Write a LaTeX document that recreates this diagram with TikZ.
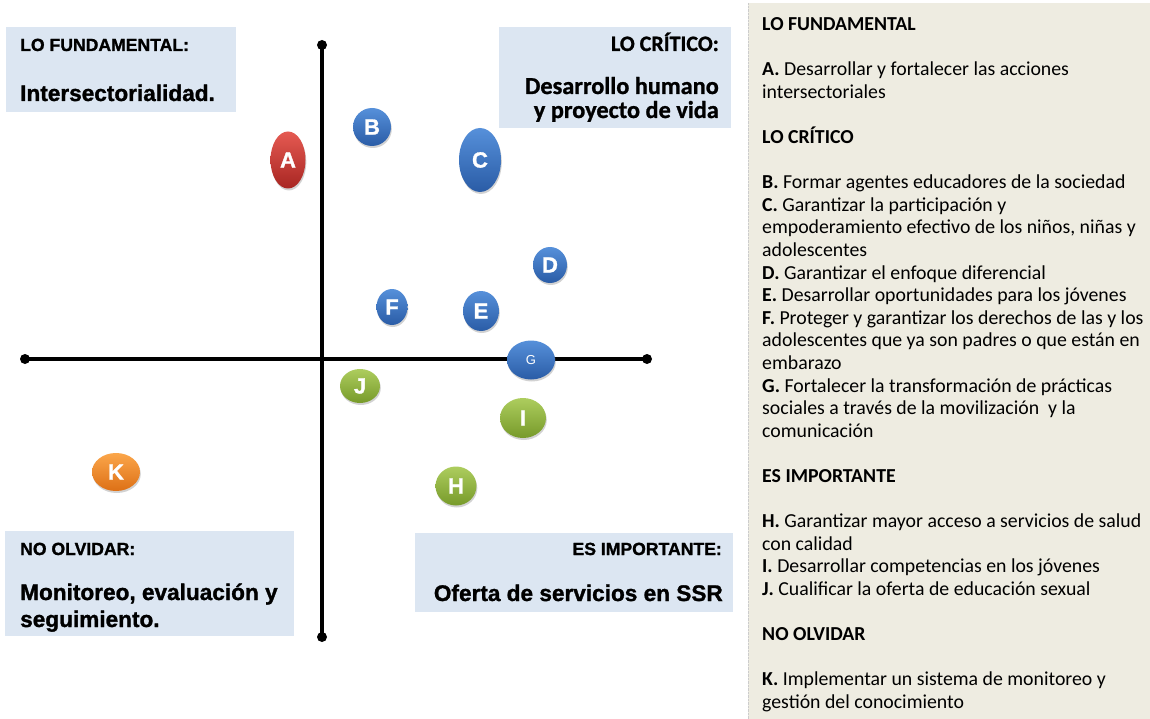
\documentclass[tikz,border=0pt]{standalone}
\usepackage{fontspec}
\setmainfont{Carlito}
\newfontfamily\arialf{Liberation Sans}[BoldFeatures={FakeBold=1.3}]
\newfontfamily\critf{Carlito}[BoldFeatures={FakeBold=1.0}]
\usetikzlibrary{shapes.geometric,shadows}
\definecolor{boxblue}{HTML}{DCE6F2}
\definecolor{panelbg}{HTML}{EEECE1}
\definecolor{redtop}{HTML}{E55A52}
\definecolor{redbot}{HTML}{A82622}
\definecolor{bluetop}{HTML}{5690DA}
\definecolor{bluebot}{HTML}{2A5CA6}
\definecolor{greentop}{HTML}{ADCD5E}
\definecolor{greenbot}{HTML}{779A2A}
\definecolor{orangetop}{HTML}{FBA64A}
\definecolor{orangebot}{HTML}{DD7016}
\tikzset{
  ball/.style={ellipse, inner sep=0pt, text=white,
    font=\arialf\bfseries\fontsize{22}{22}\selectfont,
    drop shadow={opacity=0.35, shadow xshift=0.8pt, shadow yshift=-2pt}},
  redball/.style={ball, top color=redtop, bottom color=redbot},
  blueball/.style={ball, top color=bluetop, bottom color=bluebot},
  greenball/.style={ball, top color=greentop, bottom color=greenbot},
  orangeball/.style={ball, top color=orangetop, bottom color=orangebot},
  axisdot/.style={circle, fill=black, inner sep=0pt, minimum size=10pt},
  axisline/.style={line width=3.5pt, black},
  boxtitle/.style={inner sep=0pt, font=\arialf\bfseries\fontsize{17.6}{20}\selectfont},
  boxbig/.style={inner sep=0pt, font=\arialf\bfseries\fontsize{22.6}{26}\selectfont},
  crittitle/.style={inner sep=0pt, font=\critf\bfseries\fontsize{22}{24}\selectfont},
  critbig/.style={inner sep=0pt, font=\critf\bfseries\fontsize{24.3}{26}\selectfont},
  paneltext/.style={inner sep=0pt, anchor=base west, font=\fontsize{19.8}{22.6}\selectfont},
}
\begin{document}
\begin{tikzpicture}[x=1pt,y=-1pt]
\useasboundingbox (0,0) rectangle (1150,719);
\fill[white] (0,0) rectangle (1150,719);

% right panel
\fill[panelbg] (748,3) rectangle (1150,719);
\draw[gray!40, densely dotted] (748,3) -- (748,719);

% quadrant boxes
\fill[boxblue] (6,27) rectangle (236,112);
\fill[boxblue] (499,27) rectangle (731,128);
\fill[boxblue] (5,531) rectangle (294,636);
\fill[boxblue] (415,533) rectangle (733,612);

\node[boxtitle, anchor=base west] (t1) at (20,51) {LO FUNDAMENTAL:};
\node[boxbig, anchor=base west] (t1b) at (20,101) {Intersectorialidad.};

\node[crittitle, anchor=base east] (t2) at (719,51) {LO CRÍTICO:};
\node[critbig, anchor=base east] (t2b) at (719,94) {Desarrollo humano};
\node[critbig, anchor=base east] (t2c) at (719,118) {y proyecto de vida};

\node[boxtitle, anchor=base west] (t3) at (20,555) {NO OLVIDAR:};
\node[boxbig, anchor=base west] (t3b) at (20,600) {Monitoreo, evaluación y};
\node[boxbig, anchor=base west] (t3c) at (20,627) {seguimiento.};

\node[boxtitle, anchor=base east] (t4) at (722,555) {ES IMPORTANTE:};
\node[boxbig, anchor=base east] (t4b) at (723,601) {Oferta de servicios en SSR};

% axes
\node[axisdot] (vt) at (322,45) {};
\node[axisdot] (vb) at (322,637) {};
\node[axisdot] (hl) at (25,359) {};
\node[axisdot] (hr) at (647,359) {};
\draw[axisline] (vt.center) -- (vb.center);
\draw[axisline] (hl.center) -- (hr.center);

% balls
\node[redball, minimum width=35pt, minimum height=57pt] (A) at (288,160) {A};
\node[blueball, minimum width=38pt, minimum height=38pt] (B) at (372,127) {B};
\node[blueball, minimum width=42pt, minimum height=64pt] (C) at (480,160) {C};
\node[blueball, minimum width=34pt, minimum height=36pt] (D) at (550,265) {D};
\node[blueball, minimum width=31pt, minimum height=36pt] (F) at (392,307) {F};
\node[blueball, minimum width=36pt, minimum height=40pt] (E) at (481,311) {E};
\node[blueball, minimum width=48pt, minimum height=39pt, font=\arialf\fontsize{13}{13}\selectfont] (G) at (531,360) {G};
\node[greenball, minimum width=40pt, minimum height=34pt] (J) at (360,386) {J};
\node[greenball, minimum width=46pt, minimum height=40pt] (I) at (523,418) {I};
\node[greenball, minimum width=41pt, minimum height=39pt] (H) at (456,486) {H};
\node[orangeball, minimum width=48pt, minimum height=38pt] (K) at (116,472) {K};

% panel text
\foreach \i/\t in {
  0/{\textbf{LO FUNDAMENTAL}},
  2/{\textbf{A.} Desarrollar y fortalecer las acciones},
  3/{intersectoriales},
  5/{\textbf{LO CRÍTICO}},
  7/{\textbf{B.} Formar agentes educadores de la sociedad},
  8/{\textbf{C.} Garantizar la participación y},
  9/{empoderamiento efectivo de los niños, niñas y},
  10/{adolescentes},
  11/{\textbf{D.} Garantizar el enfoque diferencial},
  12/{\textbf{E.} Desarrollar oportunidades para los jóvenes},
  13/{\textbf{F.} Proteger y garantizar los derechos de las y los},
  14/{adolescentes que ya son padres o que están en},
  15/{embarazo},
  16/{\textbf{G.} Fortalecer la transformación de prácticas},
  17/{sociales a través de la movilización\ \ y la},
  18/{comunicación},
  20/{\textbf{ES IMPORTANTE}},
  22/{\textbf{H.} Garantizar mayor acceso a servicios de salud},
  23/{con calidad},
  24/{\textbf{I.} Desarrollar competencias en los jóvenes},
  25/{\textbf{J.} Cualificar la oferta de educación sexual},
  27/{\textbf{NO OLVIDAR}},
  29/{\textbf{K.} Implementar un sistema de monitoreo y},
  30/{gestión del conocimiento}}
  \node[paneltext] (p\i) at (762,{30.5+22.6*\i}) {\t};
\end{tikzpicture}
\end{document}
